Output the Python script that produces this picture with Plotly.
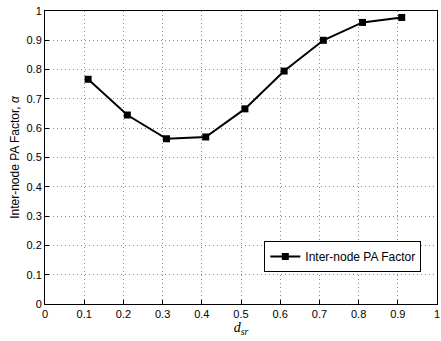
import plotly.graph_objects as go

d_sr = [0.11, 0.21, 0.31, 0.41, 0.51, 0.61, 0.71, 0.81, 0.91]
pa_factor = [0.767, 0.645, 0.564, 0.570, 0.666, 0.795, 0.900, 0.961, 0.978]
ticks = [0, 0.1, 0.2, 0.3, 0.4, 0.5, 0.6, 0.7, 0.8, 0.9, 1]
tick_text = ["0", "0.1", "0.2", "0.3", "0.4", "0.5", "0.6", "0.7", "0.8", "0.9", "1"]

fig = go.Figure()
fig.add_trace(go.Scatter(
    x=d_sr, y=pa_factor, mode="lines+markers", name="Inter-node PA Factor",
    line=dict(color="black", width=2),
    marker=dict(symbol="square", size=7, color="black"),
))

axis_common = dict(
    range=[0, 1], tickvals=ticks, ticktext=tick_text,
    showgrid=True, gridcolor="#888", griddash="1px,3px", gridwidth=1,
    showline=True, linecolor="black", linewidth=1, mirror=True,
    ticks="inside", ticklen=4, tickcolor="black",
    zeroline=False, ticklabeloverflow="allow",
    tickfont=dict(family="Liberation Sans, Arial", size=11, color="black"),
)

fig.update_layout(
    width=441, height=341,
    margin=dict(l=45, r=4, t=11, b=37),
    paper_bgcolor="white", plot_bgcolor="white",
    font=dict(family="Liberation Sans, Arial", color="black"),
    xaxis=dict(**axis_common, automargin=False,
               title=dict(text="<i>d</i><sub><i>sr</i></sub>", font=dict(family="Liberation Serif, Times New Roman", size=14), standoff=2)),
    yaxis=dict(**axis_common, automargin=False,
               title=dict(text="Inter-node PA Factor, <i>α</i>", font=dict(size=12), standoff=4)),
    showlegend=True,
    legend=dict(x=0.96, y=0.109, xanchor="right", yanchor="bottom",
                bordercolor="black", borderwidth=1, bgcolor="white",
                font=dict(size=12), itemwidth=30, tracegroupgap=0),
)

fig.write_html("out.html")
